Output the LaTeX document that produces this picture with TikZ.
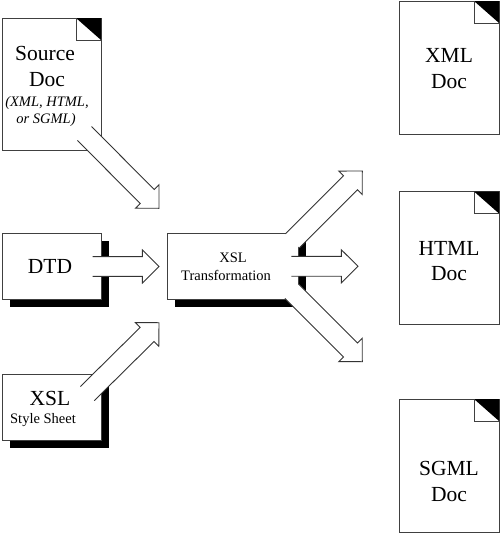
\documentclass[tikz,border=0pt]{standalone}
\usepackage{fontspec}
\setmainfont{Liberation Serif}
\usetikzlibrary{calc,shadows}
\tikzset{
  paper/.style={draw=black!75, line width=1pt, fill=white, inner sep=0pt, outer sep=0pt},
  docbox/.style={paper, minimum width=99pt, minimum height=132pt},
  outdoc/.style={paper, minimum width=100pt, minimum height=133pt},
  shadowbox/.style={paper, drop shadow={shadow xshift=8pt, shadow yshift=-8pt, fill=black, opacity=1}},
  flow/.style={draw=black!80, line width=0.9pt, fill=white, line join=miter},
  bigtext/.style={font=\fontsize{21.5}{24}\selectfont},
  smalltext/.style={font=\fontsize{14.5}{17}\selectfont},
  smallitalic/.style={font=\fontsize{14.5}{17}\selectfont\itshape},
}
\newcommand{\docfold}[1]{
  \fill[black] ($(#1.north east)+(-25,0)$) -- (#1.north east) -- ($(#1.north east)+(0,22)$) -- cycle;
  \draw[draw=black!75, line width=1pt] ($(#1.north east)+(-25,0)$) -- ($(#1.north east)+(-25,22)$) -- ($(#1.north east)+(0,22)$);
}
\newcommand{\blockarrow}[2]{
  \coordinate (neck) at ($(#2)!16.7pt!(#1)$);
  \path[flow] ($(#1)!9.9pt!90:(#2)$) -- ($(neck)!9.9pt!90:(#2)$) -- ($(neck)!16.6pt!90:(#2)$) -- (#2)
    -- ($(neck)!16.6pt!-90:(#2)$) -- ($(neck)!9.9pt!-90:(#2)$) -- ($(#1)!9.9pt!-90:(#2)$);
}

\begin{document}
\begin{tikzpicture}[x=1pt, y=-1pt]
\useasboundingbox (0,0) rectangle (500,533);
% boxes
\node[docbox] (source) at (51.5,84) {};
\node[shadowbox, minimum width=99pt, minimum height=66pt] (dtd) at (51.5,266) {};
\node[shadowbox, minimum width=99pt, minimum height=66pt] (xsl) at (51.5,407) {};
\node[shadowbox, minimum width=131pt, minimum height=66pt] (transform) at (232.5,266) {};
\node[outdoc] (xmldoc) at (449,67.5) {};
\node[outdoc] (htmldoc) at (449,258) {};
\node[outdoc] (sgmldoc) at (449,465.5) {};
\docfold{source}
\docfold{xmldoc}
\docfold{htmldoc}
\docfold{sgmldoc}
% arrows
\coordinate (sourcetail) at (84.5,133.5);
\coordinate (dtdtail) at (92.7,266.5);
\coordinate (xsltail) at (87.3,393.6);
\coordinate (uptail) at (292.5,240.8);
\coordinate (midtail) at (291.3,266.3);
\coordinate (downtail) at (292,291.4);
\coordinate (insource) at (159,208.3);
\coordinate (indtd) at (159,266.5);
\coordinate (inxsl) at (159,322.7);
\coordinate (outxml) at (362.3,171);
\coordinate (outhtml) at (358,266.3);
\coordinate (outsgml) at (362.3,361.7);
\blockarrow{sourcetail}{insource}
\blockarrow{dtdtail}{indtd}
\blockarrow{xsltail}{inxsl}
\blockarrow{uptail}{outxml}
\blockarrow{downtail}{outsgml}
\blockarrow{midtail}{outhtml}
% labels
\node[bigtext] (sourcea) at (45,53) {Source};
\node[bigtext] (sourceb) at (47,80) {Doc};
\node[smallitalic] (sourcec) at (47,103) {(XML, HTML,};
\node[smallitalic] (sourced) at (46,120) {or SGML)};
\node[bigtext] (dtdlabel) at (50,266) {DTD};
\node[bigtext] (xsla) at (50,398) {XSL};
\node[smalltext] (xslb) at (43,420) {Style Sheet};
\node[smalltext] (transforma) at (233,258) {XSL};
\node[smalltext] (transformb) at (226,275) {Transformation};
\node[bigtext] (xmla) at (449,55) {XML};
\node[bigtext] (xmlb) at (449,82) {Doc};
\node[bigtext] (htmla) at (449,248) {HTML};
\node[bigtext] (htmlb) at (449,274) {Doc};
\node[bigtext] (sgmla) at (449,468) {SGML};
\node[bigtext] (sgmlb) at (449,495) {Doc};
\end{tikzpicture}
\end{document}
